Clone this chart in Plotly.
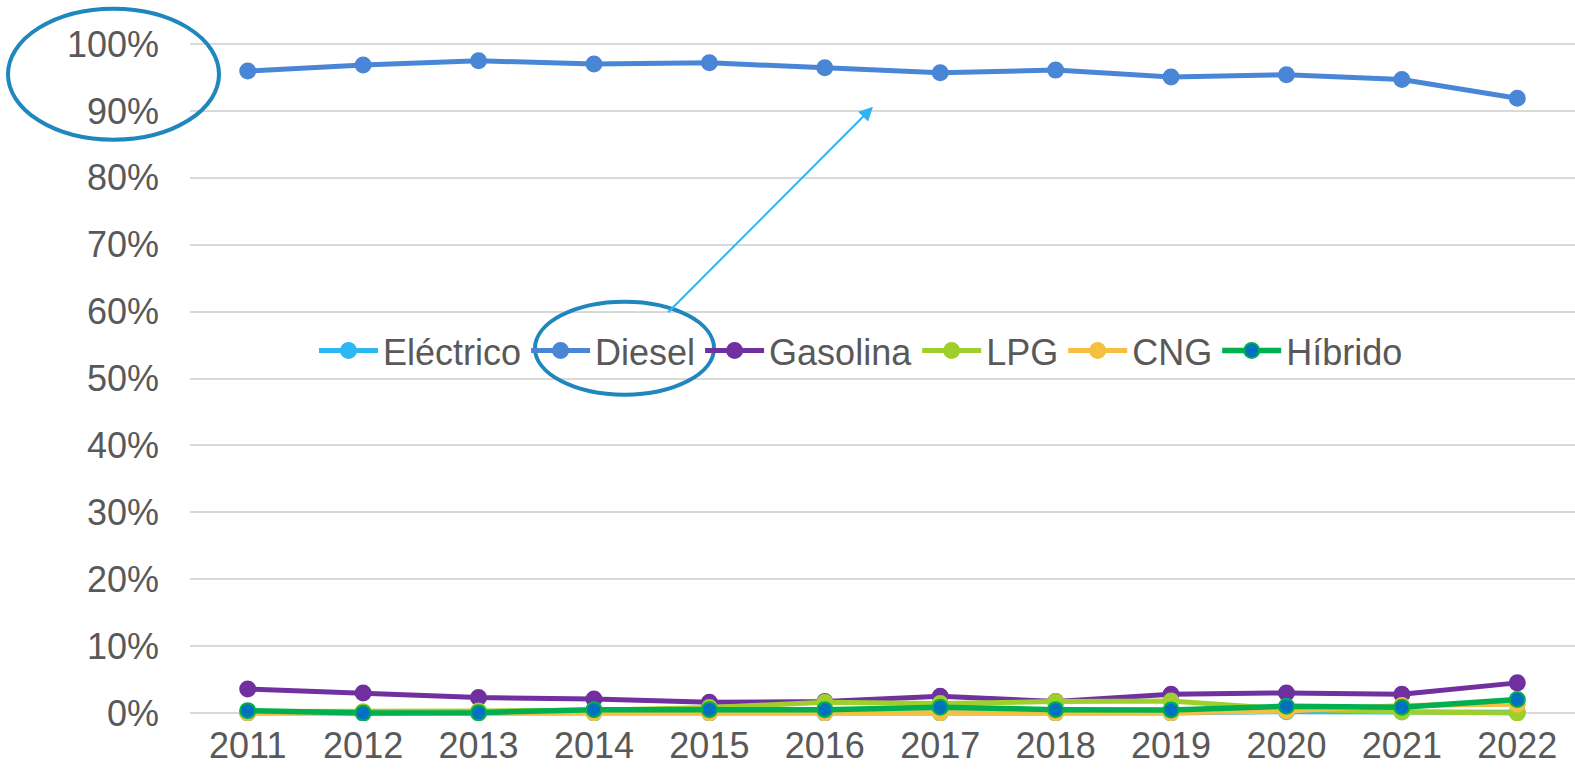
import plotly.graph_objects as go

years = ["2011", "2012", "2013", "2014", "2015", "2016", "2017", "2018", "2019", "2020", "2021", "2022"]
electrico = [0.0, 0.0, 0.0, 0.0, 0.0, 0.0, 0.0, 0.0, 0.0, 0.2, 0.2, 0.1]
diesel = [95.96, 96.86, 97.5, 97.0, 97.2, 96.45, 95.7, 96.1, 95.06, 95.4, 94.7, 91.9]
gasolina = [3.6, 3.0, 2.3, 2.1, 1.6, 1.7, 2.5, 1.7, 2.8, 3.0, 2.8, 4.5]
lpg = [0.2, 0.2, 0.3, 0.4, 0.8, 1.6, 1.4, 1.7, 1.8, 0.6, 0.15, 0.0]
cng = [0.05, 0.05, 0.05, 0.05, 0.05, 0.05, 0.05, 0.05, 0.05, 0.3, 1.1, 1.3]
hibrido = [0.35, 0.0, 0.05, 0.5, 0.5, 0.5, 0.85, 0.5, 0.45, 1.0, 0.85, 2.0]
y_ticks = [0, 10, 20, 30, 40, 50, 60, 70, 80, 90, 100]

series = [
    ("Eléctrico", electrico, "#2DB7F5", "#2DB7F5", "#2DB7F5"),
    ("Diesel", diesel, "#4A86D6", "#4A86D6", "#4A86D6"),
    ("Gasolina", gasolina, "#7030A0", "#7030A0", "#7030A0"),
    ("LPG", lpg, "#9FCF2D", "#9FCF2D", "#9FCF2D"),
    ("CNG", cng, "#F5BF40", "#F5BF40", "#F5BF40"),
    ("Híbrido", hibrido, "#00B050", "#0070C0", "#00B050"),
]

fig = go.Figure()
for name, vals, lc, mc, mlc in series:
    fig.add_trace(go.Scatter(
        x=years, y=[v / 100 for v in vals], name=name, mode="lines+markers",
        line=dict(color=lc, width=5.5 if name == "Híbrido" else 5),
        marker=dict(color=mc, size=15, line=dict(color=mlc, width=2)),
    ))

W, H = 1575, 780
# pixel geometry of the value axis: 100% at y=44.3, 0% at y=713.3
Y100, Y0 = 44.3, 713.3
pad = 0.012
unit = (Y0 - Y100)  # px per 1.0
T = Y100 - pad * unit
Bpx = Y0 + pad * unit
L, R = 190, 0
B = H - Bpx
pw = W - L - R
ph = Bpx - T

def px(x):
    return (x - L) / pw

def py(y):
    return (Bpx - y) / ph

fig.update_layout(
    width=W, height=H,
    margin=dict(l=L, r=R, t=T, b=B, autoexpand=False),
    paper_bgcolor="white", plot_bgcolor="white",
    font=dict(family="Liberation Sans, Arial, sans-serif", size=36, color="#595959"),
    showlegend=True,
    legend=dict(orientation="h", x=px(861), y=py(351), xanchor="center", yanchor="middle",
                font=dict(size=36, color="#595959"), bgcolor="rgba(0,0,0,0)",
                itemwidth=59, tracegroupgap=0),
    xaxis=dict(type="category", range=[-0.5, len(years) - 0.5], showgrid=False,
               zeroline=False, showline=False,
               ticks="", tickfont=dict(size=36, color="#595959"), fixedrange=True,
               automargin=False),
    yaxis=dict(range=[-pad, 1 + pad], tickvals=[v / 100 for v in y_ticks], tickformat=".0%",
               showgrid=True, gridcolor="#D9D9D9", gridwidth=1.5, zeroline=False,
               showline=False, ticks="", ticklabelstandoff=30,
               tickfont=dict(size=36, color="#595959"), fixedrange=True,
               automargin=False),
    shapes=[
        dict(type="circle", xref="paper", yref="paper",
             x0=px(8), x1=px(219), y0=py(140), y1=py(9),
             line=dict(color="#1F87BD", width=4)),
        dict(type="circle", xref="paper", yref="paper",
             x0=px(535), x1=px(714), y0=py(395), y1=py(302),
             line=dict(color="#1F87BD", width=4)),
    ],
    annotations=[
        dict(x=px(873), y=py(107), xref="paper", yref="paper",
             ax=666.7 - 873, ay=314 - 107, axref="pixel", ayref="pixel",
             showarrow=True, arrowhead=2, arrowsize=1.4, arrowwidth=2,
             arrowcolor="#2DB4F3", text=""),
    ],
)

fig.write_html("out.html", config={"displayModeBar": False},
               post_script="document.body.style.margin='0';")
